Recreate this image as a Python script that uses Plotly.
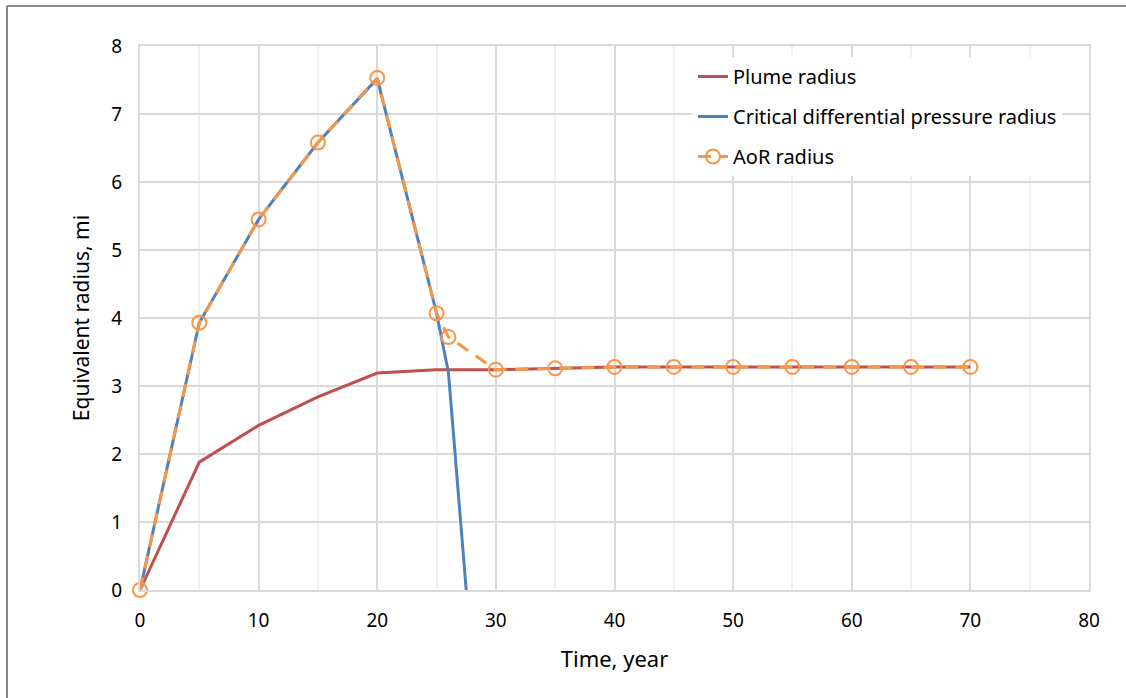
import plotly.graph_objects as go

# Data
years_plume = [0, 5, 10, 15, 20, 25, 30, 35, 40, 45, 50, 55, 60, 65, 70]
plume_radius = [0, 1.88, 2.42, 2.84, 3.19, 3.24, 3.24, 3.26, 3.28, 3.28, 3.28, 3.28, 3.28, 3.28, 3.28]

years_crit = [0, 5, 10, 15, 20, 25, 26, 27.5]
crit_radius = [0, 3.93, 5.45, 6.58, 7.52, 4.07, 3.2, 0]

years_aor = [0, 5, 10, 15, 20, 25, 26, 30, 35, 40, 45, 50, 55, 60, 65, 70]
aor_radius = [0, 3.93, 5.45, 6.58, 7.53, 4.07, 3.72, 3.24, 3.26, 3.28, 3.28, 3.28, 3.28, 3.28, 3.28, 3.28]

x_ticks = [0, 10, 20, 30, 40, 50, 60, 70, 80]
y_ticks = [0, 1, 2, 3, 4, 5, 6, 7, 8]

FONT = "Noto Sans"
fig = go.Figure()
fig.add_trace(go.Scatter(x=years_plume, y=plume_radius, mode="lines", name="Plume radius",
                         line=dict(color="#C0504D", width=3), legendgroup="a"))
fig.add_trace(go.Scatter(x=years_crit, y=crit_radius, mode="lines",
                         name="Critical differential pressure radius",
                         line=dict(color="#4F81BD", width=3), legendgroup="b"))
fig.add_trace(go.Scatter(x=years_aor, y=aor_radius, mode="lines+markers", name="AoR radius",
                         line=dict(color="#F79646", width=3, dash="13px,9px"),
                         marker=dict(symbol="circle-open", size=14, color="#F79646",
                                     line=dict(width=2, color="#F79646")),
                         cliponaxis=False, legendgroup="c"))

W, H = 1126, 698
L, R, T, B = 140, 37, 46, 108
pw, ph = W - L - R, H - T - B

def px(xp):
    return (xp - L) / pw

def py(yp):
    return (H - B - yp) / ph

fig.update_layout(
    width=W, height=H,
    margin=dict(l=L, r=R, t=T, b=B),
    paper_bgcolor="white", plot_bgcolor="white",
    font=dict(family=FONT, size=19, color="black"),
    showlegend=True,
    legend=dict(x=px(693), y=py(57), xanchor="left", yanchor="top",
                bgcolor="white", font=dict(size=20, family=FONT, color="black"),
                tracegroupgap=11, traceorder="grouped"),
    xaxis=dict(range=[0, 80], tickvals=x_ticks, showgrid=True, gridcolor="#D9D9D9", gridwidth=2,
               minor=dict(dtick=5, showgrid=True, gridcolor="#EFEFEF", gridwidth=2),
               showline=True, linecolor="#D9D9D9", linewidth=2, mirror=True,
               zeroline=False, ticks="", ticklabelstandoff=12,
               title=dict(text="Time, year", font=dict(size=22, family=FONT), standoff=20)),
    yaxis=dict(range=[0, 8], tickvals=y_ticks, showgrid=True, gridcolor="#D9D9D9", gridwidth=2,
               showline=True, linecolor="#D9D9D9", linewidth=2, mirror=True,
               zeroline=False, ticks="", ticklabelstandoff=12,
               title=dict(text="Equivalent radius, mi", font=dict(size=21, family=FONT), standoff=16)),
    shapes=[
        dict(type="line", xref="paper", yref="paper", x0=px(7), x1=px(7), y0=py(698), y1=py(6),
             line=dict(color="#878787", width=2)),
        dict(type="line", xref="paper", yref="paper", x0=px(7), x1=px(1126), y0=py(6), y1=py(6),
             line=dict(color="#878787", width=2)),
    ],
)

fig.write_html("out.html")
